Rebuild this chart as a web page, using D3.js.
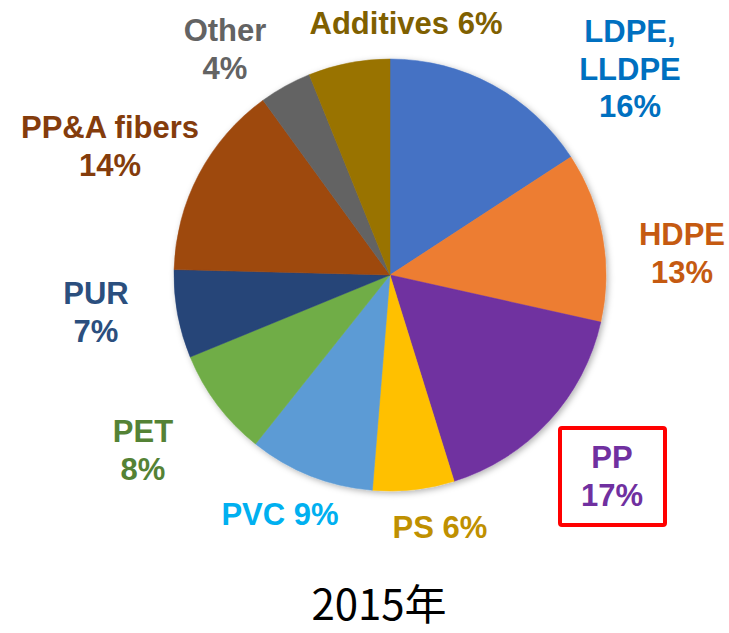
<!DOCTYPE html>
<html>
    <head>
        <meta charset="UTF-8">
        <script src="https://d3js.org/d3.v7.min.js"></script>
        <style>
            body { margin: 0; background: #fff; }
        </style>
    </head>

    <body>

        <svg id="canvas"></svg>

        <script>

            width = 729;
            height = 633;

            // slices, clockwise from 12 o'clock
            names = ["LDPE, LLDPE", "HDPE", "PP", "PS", "PVC", "PET", "PUR", "PP&A fibers", "Other", "Additives"];
            shares = [15.8, 12.7, 16.7, 6.1, 9.4, 8.1, 6.6, 14.6, 3.9, 6.1];
            pctLabels = ["16%", "13%", "17%", "6%", "9%", "8%", "7%", "14%", "4%", "6%"];
            title = "2015年";

            sliceColors = ["#4472C4", "#ED7D31", "#7030A0", "#FFC000", "#5B9BD5", "#70AD47", "#264478", "#9E480E", "#636363", "#997300"];
            textColors = ["#0070C0", "#C55A11", "#7030A0", "#BF9000", "#00B0F0", "#548235", "#2B4F7E", "#843C0C", "#636363", "#7F6000"];

            cx = 390;
            cy = 275;
            radius = 216;
            lineH = 37.5;

            // hand placed labels (like the moved data labels in the original), relative to pie centre
            // x = centre of text, y = first baseline
            labelAt = {
                "LDPE, LLDPE": {x: 240, y: -233, inline: false},
                "HDPE":        {x: 292, y: -30,  inline: false},
                "PP":          {x: 222, y: 193,  inline: false, boxed: true},
                "PS":          {x: 50,  y: 263,  inline: true},
                "PVC":         {x: -110, y: 250, inline: true},
                "PET":         {x: -247, y: 167, inline: false},
                "PUR":         {x: -294, y: 29,  inline: false},
                "PP&A fibers": {x: -280, y: -137, inline: false},
                "Other":       {x: -165, y: -234, inline: false},
                "Additives":   {x: 16,  y: -241, inline: true}
            };

            data = names.map((n, i) => ({name: n, value: shares[i], pct: pctLabels[i], i: i}));

            canvas = d3.select("#canvas")
                .attr("width", width)
                .attr("height", height);

            defs = canvas.append("defs");
            defs.append("filter")
                .attr("id", "shadow")
                .attr("x", "-10%").attr("y", "-10%")
                .attr("width", "120%").attr("height", "120%")
                .append("feDropShadow")
                    .attr("dx", 2)
                    .attr("dy", 2)
                    .attr("stdDeviation", 3)
                    .attr("flood-color", "#000")
                    .attr("flood-opacity", 0.3);

            chart = canvas.append("g")
                .attr("transform", "translate(" + cx + "," + cy + ")");

            pie = d3.pie()
                .sort(null)
                .value((d) => d.value);

            arc = d3.arc()
                .innerRadius(0)
                .outerRadius(radius);

            slices = chart.append("g")
                .attr("filter", "url(#shadow)");

            slices.selectAll("path")
                .data(pie(data))
                .enter().append("path")
                    .attr("d", arc)
                    .attr("fill", (d) => sliceColors[d.data.i])
                    .attr("stroke", (d) => sliceColors[d.data.i])
                    .attr("stroke-width", 0.5);

            labels = chart.append("g")
                .selectAll("text")
                .data(data)
                .enter().append("text")
                    .attr("x", (d) => labelAt[d.name].x)
                    .attr("y", (d) => labelAt[d.name].y)
                    .attr("text-anchor", "middle")
                    .attr("fill", (d) => textColors[d.i])
                    .attr("style", "font: bold 31px 'Liberation Sans', Arial, sans-serif;");

            labels.each(function(d) {
                var t = d3.select(this);
                var pos = labelAt[d.name];
                var lines;
                if (pos.inline) {
                    lines = [d.name + " " + d.pct];
                } else {
                    // a comma in the name breaks the line, as in the original
                    lines = d.name.split(/,\s*/).map((s, k, arr) => k < arr.length - 1 ? s + "," : s);
                    lines.push(d.pct);
                }
                lines.forEach((s, k) => {
                    t.append("tspan")
                        .attr("x", pos.x)
                        .attr("y", pos.y + k * lineH)
                        .text(s);
                });
            });

            // red highlight box around the PP label
            data.filter((d) => labelAt[d.name].boxed).forEach((d) => {
                var pos = labelAt[d.name];
                chart.append("rect")
                    .attr("x", pos.x - 52)
                    .attr("y", pos.y - 40)
                    .attr("width", 105)
                    .attr("height", 97)
                    .attr("rx", 2)
                    .attr("fill", "none")
                    .attr("stroke", "#FF0000")
                    .attr("stroke-width", 4);
            });

            canvas.append("text")
                .attr("x", 379)
                .attr("y", 620)
                .attr("text-anchor", "middle")
                .attr("fill", "#000")
                .attr("style", "font: 42px 'Noto Sans CJK JP', sans-serif;")
                .text(title);

        </script>

    </body>

</html>
